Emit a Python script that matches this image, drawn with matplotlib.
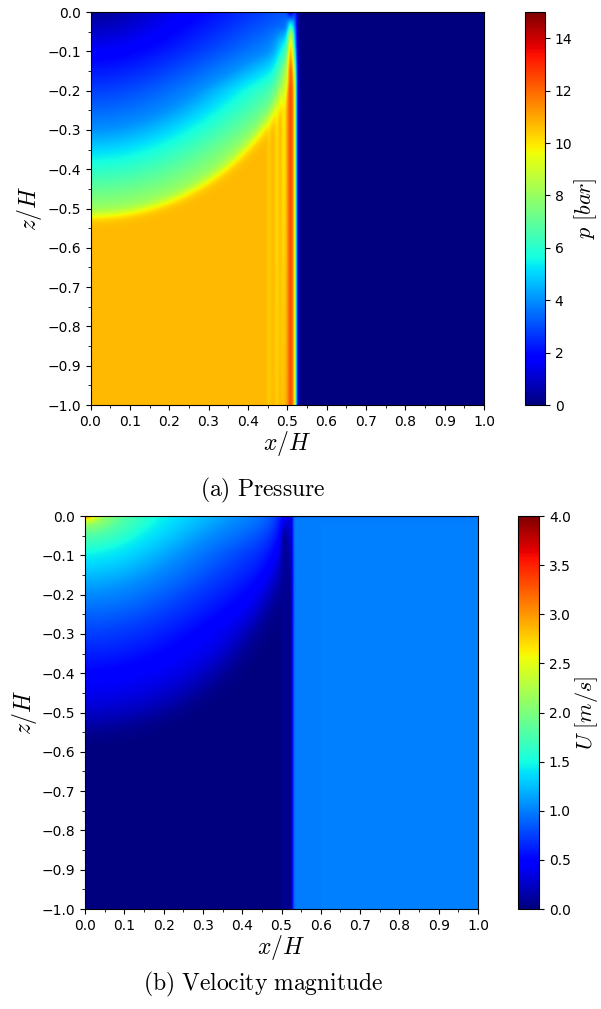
import numpy as np
import matplotlib

matplotlib.use("Agg")
import matplotlib.pyplot as plt
from matplotlib.ticker import MultipleLocator

plt.rcParams["mathtext.fontset"] = "cm"

# ---- values ------------------------------------------------------------
# pressure [bar] in the low-pressure bowl, against distance from the corner
p_r = [0.02, 0.12, 0.22, 0.32, 0.42, 0.50, 0.56]
p_r_val = [0.3, 1.65, 2.8, 4.0, 6.0, 7.6, 8.5]
p_plateau = 10.7
# horizontal stretch of the bowl against depth
p_kx_z = [-0.50, -0.35, -0.20, -0.10, 0.0]
p_kx = [1.00, 0.97, 0.85, 0.65, 0.50]
# peak pressure in the front band against depth
p_tip_z = [-1.0, -0.20, -0.15, -0.10, -0.06, -0.03, 0.0]
p_tip_val = [12.4, 12.4, 12.0, 10.5, 8.5, 5.0, 1.0]
# wider glow around the front near the surface
p_glow_z = [-1.0, -0.25, -0.15, -0.08, -0.03, 0.0]
p_glow_val = [10.7, 10.0, 8.0, 5.5, 3.0, 0.5]
# faint bands just behind the front
p_ripple_x = [0.452, 0.472, 0.490]
p_ripple_dp = [-0.3, -0.5, -1.0]

# velocity magnitude [m/s]
u_r = [0.0, 0.012, 0.025, 0.05, 0.10, 0.20, 0.30, 0.40, 0.50]
u_r_val = [3.3, 2.5, 2.1, 1.8, 1.45, 1.05, 0.75, 0.5, 0.3]
u_kx_z = [-0.5, -0.3, -0.1, 0.0]
u_kx = [1.0, 0.95, 0.7, 0.5]
u_ahead = 1.0
u_band = 0.08
band_tip_z = [-1.0, -0.06, -0.02, 0.0]
band_tip_w = [1.0, 1.0, 0.3, 0.0]

x_band = 0.507
x_front_p = 0.521
x_front_u = 0.527
bowl_radius = 0.54
bowl_z0 = 0.02
u_bowl_ax = 0.51
u_bowl_az = 0.53

p_ticks = [0, 2, 4, 6, 8, 10, 12, 14]
u_ticks = [0.0, 0.5, 1.0, 1.5, 2.0, 2.5, 3.0, 3.5, 4.0]

# ---- fields --------------------------------------------------------------
x = np.linspace(0, 1, 900)
z = np.linspace(0, -1, 900)
X, Z = np.meshgrid(x, z)

g = np.exp(-0.5 * ((X - x_band) / 0.006) ** 2)
g_wide = np.exp(-0.5 * ((X - 0.500) / 0.018) ** 2)

kx = np.interp(Z, p_kx_z, p_kx)
r_p = np.sqrt((X * kx) ** 2 + (Z - bowl_z0) ** 2)
r_c = np.sqrt(X ** 2 + (Z - bowl_z0) ** 2)
s_p = 1 / (1 + np.exp(-(r_c - bowl_radius) / 0.008))
p_left = np.interp(r_p, p_r, p_r_val) * (1 - s_p) + p_plateau * s_p
for xr, dp in zip(p_ripple_x, p_ripple_dp):
    p_left += dp * np.exp(-0.5 * ((X - xr) / 0.004) ** 2) * s_p
glow = np.interp(Z, p_glow_z, p_glow_val)
p_left = np.maximum(p_left, p_left * (1 - g_wide) + glow * g_wide)
tip = np.interp(Z, p_tip_z, p_tip_val)
p_left = p_left * (1 - g) + tip * g
pressure = p_left / (1 + np.exp((X - x_front_p) / 0.0025))

kxu = np.interp(Z, u_kx_z, u_kx)
r_u = np.sqrt((X * kxu) ** 2 + Z ** 2)
r_s = np.sqrt((X / u_bowl_ax) ** 2 + (Z / u_bowl_az) ** 2)
u_left = np.interp(r_u, u_r, u_r_val) / (1 + np.exp((r_s - 1.0) / 0.035))
w = np.interp(Z, band_tip_z, band_tip_w) * g
u_left = u_left * (1 - w) + u_band * w
u_right = u_ahead * (1 - 0.3 * np.exp(-0.5 * (Z / 0.003) ** 2))
cut = 1 / (1 + np.exp(-(X - x_front_u) / 0.002))
velocity = u_left * (1 - cut) + u_right * cut

# ---- figure --------------------------------------------------------------
fig = plt.figure(figsize=(6.01, 10.09), dpi=100)
panels = [
    (pressure, 15.0, p_ticks, r"$p\ [bar]$", r"$\mathrm{(a)\ Pressure}$",
     [0.1506, 0.5986, 0.6547, 0.3895], [0.8735, 0.5986, 0.0333, 0.3895], "%d", 0.5140, 2.35),
    (velocity, 4.0, u_ticks, r"$U\ [m/s]$", r"$\mathrm{(b)\ Velocity\ magnitude}$",
     [0.1414, 0.0991, 0.6540, 0.3895], [0.8620, 0.0991, 0.0350, 0.3895], "%.1f", 0.0240, 2.6),
]

for field, vmax, cticks, clabel, caption, ax_rect, cb_rect, fmt, cap_y, lab_x in panels:
    ax = fig.add_axes(ax_rect)
    cax = fig.add_axes(cb_rect)
    im = ax.imshow(field, cmap="jet", vmin=0, vmax=vmax, extent=[0, 1, -1, 0],
                   aspect="auto", origin="upper", interpolation="bilinear")
    ax.set_xlim(0, 1)
    ax.set_ylim(-1, 0)
    ax.xaxis.set_major_locator(MultipleLocator(0.1))
    ax.xaxis.set_minor_locator(MultipleLocator(0.05))
    ax.yaxis.set_major_locator(MultipleLocator(0.1))
    ax.yaxis.set_minor_locator(MultipleLocator(0.05))
    ax.xaxis.set_major_formatter("{x:.1f}")
    ax.yaxis.set_major_formatter("{x:.1f}")
    ax.tick_params(labelsize=10)
    ax.set_xlabel(r"$x/H$", fontsize=17, labelpad=0)
    ax.set_ylabel(r"$z/H$", fontsize=17, labelpad=2)

    cb = fig.colorbar(im, cax=cax, ticks=cticks, format=fmt)
    cb.ax.tick_params(labelsize=10)
    cb.set_label(clabel, fontsize=16)
    cb.ax.yaxis.set_label_coords(lab_x, 0.5)

    fig.text(0.438, cap_y, caption, ha="center", va="center", fontsize=17)

fig.savefig("out.png", dpi=100)
